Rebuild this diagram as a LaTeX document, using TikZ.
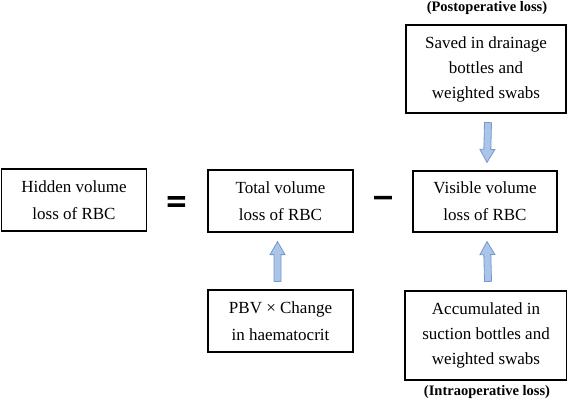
\documentclass[tikz,border=0pt]{standalone}
\usepackage{fontspec}
\setmainfont{Liberation Serif}
\newfontfamily\signfont[FakeBold=2.5]{Liberation Serif}
\usetikzlibrary{calc}
\definecolor{arrowfill}{RGB}{170,197,232}
\definecolor{arrowline}{RGB}{116,152,204}

\begin{document}
\begin{tikzpicture}[x=1pt,y=-1pt,
      every node/.append style={font=\fontsize{17}{27}\selectfont},
      box/.style={draw=black,line width=1.2pt,align=center,inner sep=0pt},
      tallbox/.style={box,font=\fontsize{17}{25}\selectfont},
      note/.style={font=\bfseries\fontsize{14.5}{16}\selectfont,inner sep=0pt},
      sign/.style={font=\signfont\bfseries\fontsize{36}{36}\selectfont,inner sep=0pt},
      fatarrow/.style={draw=arrowline,fill=arrowfill,line width=0.8pt,line join=miter,
        to path={
          ($(\tikztostart)!3.5pt!90:(\tikztotarget)$) --
          ($(\tikztotarget)!13pt!(\tikztostart)!3.5pt!90:(\tikztotarget)$) --
          ($(\tikztotarget)!13pt!(\tikztostart)!7.5pt!90:(\tikztotarget)$) --
          (\tikztotarget) --
          ($(\tikztotarget)!13pt!(\tikztostart)!7.5pt!-90:(\tikztotarget)$) --
          ($(\tikztotarget)!13pt!(\tikztostart)!3.5pt!-90:(\tikztotarget)$) --
          ($(\tikztostart)!3.5pt!-90:(\tikztotarget)$) -- cycle}}]
    \useasboundingbox (0,0) rectangle (567,404);
    \node (hidden) [box,minimum width=145,minimum height=62] at (74,200) {Hidden volume\\loss of RBC};
    \node (equals) [sign] at (176.5,205) {=};
    \node (total) [box,minimum width=145,minimum height=62] at (280.5,201) {Total volume\\loss of RBC};
    \node (minus) [sign] at (383,203) {−};
    \node (visible) [box,minimum width=144,minimum height=61] at (485,201.5) {Visible volume\\loss of RBC};
    \node (saved) [tallbox,minimum width=160,minimum height=88] at (486,69) {Saved in drainage\\bottles and\\weighted swabs};
    \node (accum) [tallbox,minimum width=162,minimum height=89] at (486,335.5) {Accumulated in\\suction bottles and\\weighted swabs};
    \node (pbv) [box,minimum width=145,minimum height=62] at (280.5,321) {PBV × Change\\in haematocrit};
    \node (postop) [note] at (487,8) {(Postoperative loss)};
    \node (intraop) [note] at (487,392) {(Intraoperative loss)};
    % block arrows
    \draw[fatarrow] ([xshift=2pt,yshift=-9pt]saved.south) to ([xshift=2pt,yshift=8pt]visible.north);
    \draw[fatarrow] ([xshift=2pt,yshift=9pt]accum.north) to ([xshift=2pt,yshift=-9pt]visible.south);
    \draw[fatarrow] ([xshift=-3pt,yshift=8pt]pbv.north) to ([xshift=-3pt,yshift=-9pt]total.south);
\end{tikzpicture}
\end{document}
